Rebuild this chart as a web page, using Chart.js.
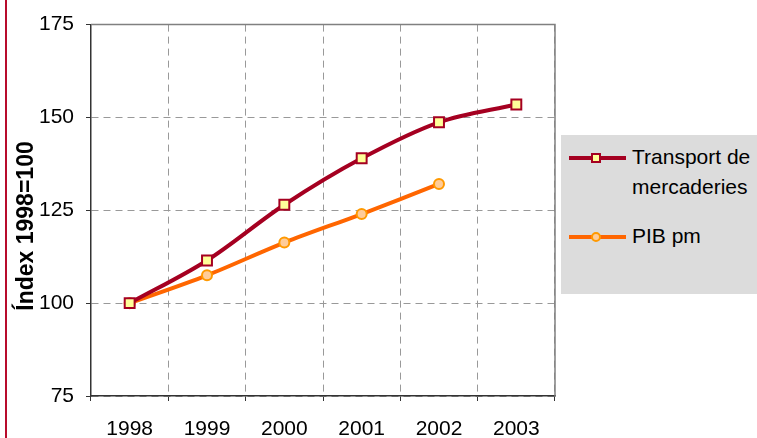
<!DOCTYPE html>
<html>
<head>
<meta charset="utf-8">
<script src="https://cdn.jsdelivr.net/npm/chart.js@4"></script>
<style>
  html, body { margin: 0; padding: 0; background: #fff; }
  #wrap { position: relative; width: 757px; height: 438px; overflow: hidden; font-family: Arial, "Liberation Sans", sans-serif; }
  #redbar { position: absolute; left: 5px; top: 0; width: 2px; height: 438px; background: #b80c2c; }
  #ytitle { position: absolute; left: 25px; top: 226px; transform: translate(-50%, -50%) rotate(-90deg); font-weight: bold; font-size: 23px; white-space: nowrap; color: #000; }
  #legend { position: absolute; left: 561px; top: 135px; width: 196px; height: 159px; background: #dcdcdc; }
  .item { position: absolute; left: 0; font-size: 21px; color: #000; }
  .item .line { position: absolute; left: 8px; width: 57px; height: 4px; }
  .item .mk { position: absolute; box-sizing: border-box; }
  .item .txt { position: absolute; left: 71px; line-height: 30px; white-space: nowrap; }
</style>
</head>
<body>
<div id="wrap">
  <canvas id="chart" width="757" height="438"></canvas>
  <div id="redbar"></div>
  <div id="ytitle">Índex 1998=100</div>
  <div id="legend">
    <div class="item" style="top:23px">
      <div class="line" style="top:-2px;background:#a50021"></div>
      <div class="mk" style="left:30px;top:-5px;width:10px;height:10px;background:#ffff99;border:2px solid #a50021"></div>
      <div class="txt" style="top:-16px">Transport de<br>mercaderies</div>
    </div>
    <div class="item" style="top:102px">
      <div class="line" style="top:-2px;background:#ff6600"></div>
      <div class="mk" style="left:30px;top:-5px;width:10px;height:10px;border-radius:50%;background:#ffcc99;border:2px solid #ff9900"></div>
      <div class="txt" style="top:-16px">PIB pm</div>
    </div>
  </div>
</div>
<script>
// categories and values
const years = ['1998', '1999', '2000', '2001', '2002', '2003'];
const transport = [100, 111.5, 126.5, 139, 148.7, 153.5];
const pib = [100, 107.5, 116.3, 124, 132.1, null];
const yMin = 75, yMax = 175, yStep = 25;

// solid frame on top and right of the plot
const frame = {
    id: 'frame',
    beforeDatasetsDraw(chart) {
        const a = chart.chartArea, c = chart.ctx;
        c.save();
        c.strokeStyle = '#808080';
        c.lineWidth = 1.5;
        c.beginPath();
        c.moveTo(a.left, a.top);
        c.lineTo(a.right, a.top);
        c.lineTo(a.right, a.bottom);
        c.stroke();
        c.restore();
    }
};

const ctx = document.getElementById('chart').getContext('2d');
new Chart(ctx, {
    type: 'line',
    data: {
        labels: years,
        datasets: [{
            label: 'Transport de mercaderies',
            data: transport,
            borderColor: '#a50021',
            borderWidth: 4,
            tension: 0.33,
            pointStyle: 'rect',
            pointRadius: 7,
            pointBorderWidth: 2,
            pointBackgroundColor: '#ffff99',
            pointBorderColor: '#a50021'
        }, {
            label: 'PIB pm',
            data: pib,
            borderColor: '#ff6600',
            borderWidth: 4,
            tension: 0.33,
            pointStyle: 'circle',
            pointRadius: 5,
            pointBorderWidth: 2,
            pointBackgroundColor: '#ffcc99',
            pointBorderColor: '#ff9900'
        }]
    },
    options: {
        responsive: false,
        animation: false,
        events: [],
        layout: { padding: { left: 0, top: 23, right: 202, bottom: 0 } },
        scales: {
            x: {
                offset: true,
                afterFit: s => { s.height = 42; },
                grid: {
                    offset: true,
                    color: '#999',
                    tickColor: '#333',
                    tickLength: 5,
                    tickBorderDash: []
                },
                border: { color: '#333', width: 1.5, dash: [7, 5] },
                ticks: { color: '#000', font: { size: 21, family: 'Arial' }, padding: 16, maxRotation: 0 }
            },
            y: {
                min: yMin,
                max: yMax,
                afterFit: s => { s.width = 91; },
                grid: {
                    color: '#999',
                    tickColor: '#333',
                    tickLength: 5,
                    tickBorderDash: []
                },
                border: { color: '#333', width: 1.5, dash: [7, 5] },
                ticks: { stepSize: yStep, color: '#000', font: { size: 21, family: 'Arial' }, padding: 12 }
            }
        },
        plugins: {
            legend: { display: false },
            tooltip: { enabled: false }
        }
    },
    plugins: [frame]
});
</script>
</body>
</html>
